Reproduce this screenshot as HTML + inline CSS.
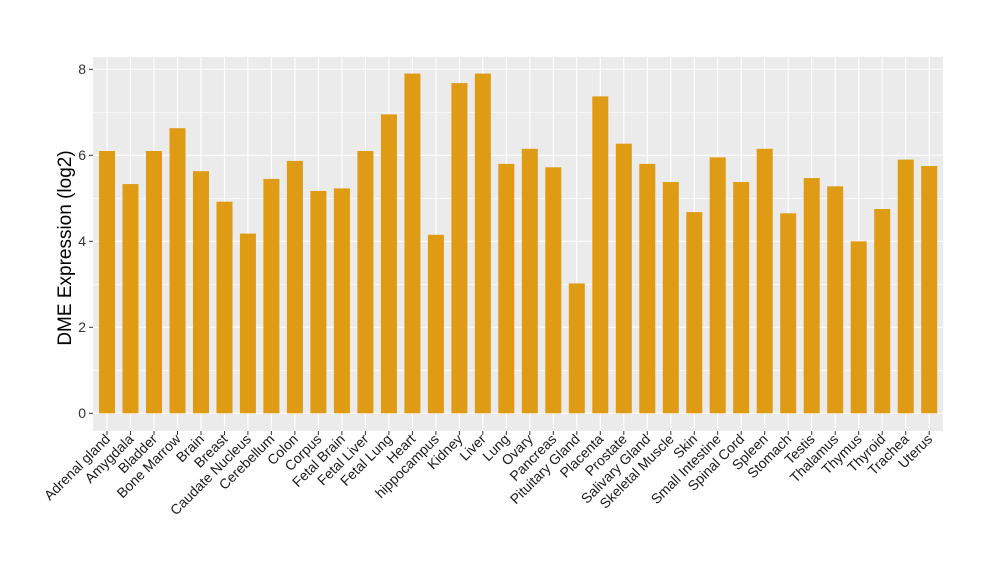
<!DOCTYPE html><html><head><style>body{margin:0;background:#fff}svg{display:block}</style></head><body>
<svg width="1000" height="580" xmlns="http://www.w3.org/2000/svg" font-family="Liberation Sans, sans-serif">
<rect x="93" y="57" width="850" height="374" fill="#ebebeb"/>
<g stroke="#fff" stroke-width="0.6">
<line x1="93" x2="943" y1="370.3" y2="370.3"/><line x1="93" x2="943" y1="284.3" y2="284.3"/><line x1="93" x2="943" y1="198.3" y2="198.3"/><line x1="93" x2="943" y1="112.3" y2="112.3"/>
</g>
<g stroke="#fff" stroke-width="1.2">
<line x1="93" x2="943" y1="413.3" y2="413.3"/><line x1="93" x2="943" y1="327.3" y2="327.3"/><line x1="93" x2="943" y1="241.3" y2="241.3"/><line x1="93" x2="943" y1="155.3" y2="155.3"/><line x1="93" x2="943" y1="69.3" y2="69.3"/>
<line x1="107.0" x2="107.0" y1="57" y2="431"/><line x1="130.5" x2="130.5" y1="57" y2="431"/><line x1="154.0" x2="154.0" y1="57" y2="431"/><line x1="177.5" x2="177.5" y1="57" y2="431"/><line x1="201.0" x2="201.0" y1="57" y2="431"/><line x1="224.5" x2="224.5" y1="57" y2="431"/><line x1="247.9" x2="247.9" y1="57" y2="431"/><line x1="271.4" x2="271.4" y1="57" y2="431"/><line x1="294.9" x2="294.9" y1="57" y2="431"/><line x1="318.4" x2="318.4" y1="57" y2="431"/><line x1="341.9" x2="341.9" y1="57" y2="431"/><line x1="365.4" x2="365.4" y1="57" y2="431"/><line x1="388.9" x2="388.9" y1="57" y2="431"/><line x1="412.4" x2="412.4" y1="57" y2="431"/><line x1="435.9" x2="435.9" y1="57" y2="431"/><line x1="459.4" x2="459.4" y1="57" y2="431"/><line x1="482.8" x2="482.8" y1="57" y2="431"/><line x1="506.3" x2="506.3" y1="57" y2="431"/><line x1="529.8" x2="529.8" y1="57" y2="431"/><line x1="553.3" x2="553.3" y1="57" y2="431"/><line x1="576.8" x2="576.8" y1="57" y2="431"/><line x1="600.3" x2="600.3" y1="57" y2="431"/><line x1="623.8" x2="623.8" y1="57" y2="431"/><line x1="647.3" x2="647.3" y1="57" y2="431"/><line x1="670.8" x2="670.8" y1="57" y2="431"/><line x1="694.3" x2="694.3" y1="57" y2="431"/><line x1="717.7" x2="717.7" y1="57" y2="431"/><line x1="741.2" x2="741.2" y1="57" y2="431"/><line x1="764.7" x2="764.7" y1="57" y2="431"/><line x1="788.2" x2="788.2" y1="57" y2="431"/><line x1="811.7" x2="811.7" y1="57" y2="431"/><line x1="835.2" x2="835.2" y1="57" y2="431"/><line x1="858.7" x2="858.7" y1="57" y2="431"/><line x1="882.2" x2="882.2" y1="57" y2="431"/><line x1="905.7" x2="905.7" y1="57" y2="431"/><line x1="929.2" x2="929.2" y1="57" y2="431"/>
</g>
<g fill="#de9b13">
<rect x="99.0" y="151.0" width="16" height="262.3"/><rect x="122.5" y="184.1" width="16" height="229.2"/><rect x="146.0" y="151.0" width="16" height="262.3"/><rect x="169.5" y="128.2" width="16" height="285.1"/><rect x="193.0" y="171.2" width="16" height="242.1"/><rect x="216.5" y="201.7" width="16" height="211.6"/><rect x="239.9" y="233.6" width="16" height="179.7"/><rect x="263.4" y="178.9" width="16" height="234.4"/><rect x="286.9" y="160.9" width="16" height="252.4"/><rect x="310.4" y="191.0" width="16" height="222.3"/><rect x="333.9" y="188.4" width="16" height="224.9"/><rect x="357.4" y="151.0" width="16" height="262.3"/><rect x="380.9" y="114.4" width="16" height="298.9"/><rect x="404.4" y="73.6" width="16" height="339.7"/><rect x="427.9" y="234.8" width="16" height="178.5"/><rect x="451.4" y="83.1" width="16" height="330.2"/><rect x="474.8" y="73.6" width="16" height="339.7"/><rect x="498.3" y="163.9" width="16" height="249.4"/><rect x="521.8" y="148.8" width="16" height="264.5"/><rect x="545.3" y="167.3" width="16" height="246.0"/><rect x="568.8" y="283.4" width="16" height="129.9"/><rect x="592.3" y="96.4" width="16" height="316.9"/><rect x="615.8" y="143.7" width="16" height="269.6"/><rect x="639.3" y="163.9" width="16" height="249.4"/><rect x="662.8" y="182.0" width="16" height="231.3"/><rect x="686.3" y="212.1" width="16" height="201.2"/><rect x="709.7" y="157.4" width="16" height="255.9"/><rect x="733.2" y="182.0" width="16" height="231.3"/><rect x="756.7" y="148.8" width="16" height="264.5"/><rect x="780.2" y="213.3" width="16" height="200.0"/><rect x="803.7" y="178.1" width="16" height="235.2"/><rect x="827.2" y="186.3" width="16" height="227.0"/><rect x="850.7" y="241.3" width="16" height="172.0"/><rect x="874.2" y="209.0" width="16" height="204.3"/><rect x="897.7" y="159.6" width="16" height="253.7"/><rect x="921.2" y="166.0" width="16" height="247.3"/>
</g>
<g stroke="#333" stroke-width="1">
<line x1="89" x2="93" y1="413.3" y2="413.3"/><line x1="89" x2="93" y1="327.3" y2="327.3"/><line x1="89" x2="93" y1="241.3" y2="241.3"/><line x1="89" x2="93" y1="155.3" y2="155.3"/><line x1="89" x2="93" y1="69.3" y2="69.3"/>
</g>
<g font-size="14" text-anchor="end" fill="#333">
<text x="86" y="418">0</text><text x="86" y="332">2</text><text x="86" y="246">4</text><text x="86" y="160">6</text><text x="86" y="74">8</text>
</g>
<g font-size="14" text-anchor="end" fill="#1a1a1a">
<text transform="translate(111,440) rotate(-45)">Adrenal gland</text>
<text transform="translate(134.5,440) rotate(-45)">Amygdala</text>
<text transform="translate(158,440) rotate(-45)">Bladder</text>
<text transform="translate(181.5,440) rotate(-45)">Bone Marrow</text>
<text transform="translate(205,440) rotate(-45)">Brain</text>
<text transform="translate(228.5,440) rotate(-45)">Breast</text>
<text transform="translate(251.9,440) rotate(-45)">Caudate Nucleus</text>
<text transform="translate(275.4,440) rotate(-45)">Cerebellum</text>
<text transform="translate(298.9,440) rotate(-45)">Colon</text>
<text transform="translate(322.4,440) rotate(-45)">Corpus</text>
<text transform="translate(345.9,440) rotate(-45)">Fetal Brain</text>
<text transform="translate(369.4,440) rotate(-45)">Fetal Liver</text>
<text transform="translate(392.9,440) rotate(-45)">Fetal Lung</text>
<text transform="translate(416.4,440) rotate(-45)">Heart</text>
<text transform="translate(439.9,440) rotate(-45)">hippocampus</text>
<text transform="translate(463.4,440) rotate(-45)">Kidney</text>
<text transform="translate(486.8,440) rotate(-45)">Liver</text>
<text transform="translate(510.3,440) rotate(-45)">Lung</text>
<text transform="translate(533.8,440) rotate(-45)">Ovary</text>
<text transform="translate(557.3,440) rotate(-45)">Pancreas</text>
<text transform="translate(580.8,440) rotate(-45)">Pituitary Gland</text>
<text transform="translate(604.3,440) rotate(-45)">Placenta</text>
<text transform="translate(627.8,440) rotate(-45)">Prostate</text>
<text transform="translate(651.3,440) rotate(-45)">Salivary Gland</text>
<text transform="translate(674.8,440) rotate(-45)">Skeletal Muscle</text>
<text transform="translate(698.3,440) rotate(-45)">Skin</text>
<text transform="translate(721.7,440) rotate(-45)">Small Intestine</text>
<text transform="translate(745.2,440) rotate(-45)">Spinal Cord</text>
<text transform="translate(768.7,440) rotate(-45)">Spleen</text>
<text transform="translate(792.2,440) rotate(-45)">Stomach</text>
<text transform="translate(815.7,440) rotate(-45)">Testis</text>
<text transform="translate(839.2,440) rotate(-45)">Thalamus</text>
<text transform="translate(862.7,440) rotate(-45)">Thymus</text>
<text transform="translate(886.2,440) rotate(-45)">Thyroid</text>
<text transform="translate(909.7,440) rotate(-45)">Trachea</text>
<text transform="translate(933.2,440) rotate(-45)">Uterus</text>
</g>
<g stroke="#333" stroke-width="1">
<line x1="107.0" x2="107.0" y1="431" y2="435"/><line x1="130.5" x2="130.5" y1="431" y2="435"/><line x1="154.0" x2="154.0" y1="431" y2="435"/><line x1="177.5" x2="177.5" y1="431" y2="435"/><line x1="201.0" x2="201.0" y1="431" y2="435"/><line x1="224.5" x2="224.5" y1="431" y2="435"/><line x1="247.9" x2="247.9" y1="431" y2="435"/><line x1="271.4" x2="271.4" y1="431" y2="435"/><line x1="294.9" x2="294.9" y1="431" y2="435"/><line x1="318.4" x2="318.4" y1="431" y2="435"/><line x1="341.9" x2="341.9" y1="431" y2="435"/><line x1="365.4" x2="365.4" y1="431" y2="435"/><line x1="388.9" x2="388.9" y1="431" y2="435"/><line x1="412.4" x2="412.4" y1="431" y2="435"/><line x1="435.9" x2="435.9" y1="431" y2="435"/><line x1="459.4" x2="459.4" y1="431" y2="435"/><line x1="482.8" x2="482.8" y1="431" y2="435"/><line x1="506.3" x2="506.3" y1="431" y2="435"/><line x1="529.8" x2="529.8" y1="431" y2="435"/><line x1="553.3" x2="553.3" y1="431" y2="435"/><line x1="576.8" x2="576.8" y1="431" y2="435"/><line x1="600.3" x2="600.3" y1="431" y2="435"/><line x1="623.8" x2="623.8" y1="431" y2="435"/><line x1="647.3" x2="647.3" y1="431" y2="435"/><line x1="670.8" x2="670.8" y1="431" y2="435"/><line x1="694.3" x2="694.3" y1="431" y2="435"/><line x1="717.7" x2="717.7" y1="431" y2="435"/><line x1="741.2" x2="741.2" y1="431" y2="435"/><line x1="764.7" x2="764.7" y1="431" y2="435"/><line x1="788.2" x2="788.2" y1="431" y2="435"/><line x1="811.7" x2="811.7" y1="431" y2="435"/><line x1="835.2" x2="835.2" y1="431" y2="435"/><line x1="858.7" x2="858.7" y1="431" y2="435"/><line x1="882.2" x2="882.2" y1="431" y2="435"/><line x1="905.7" x2="905.7" y1="431" y2="435"/><line x1="929.2" x2="929.2" y1="431" y2="435"/>
</g>
<text transform="translate(71,248) rotate(-90)" font-size="19" text-anchor="middle" fill="#000">DME Expression (log2)</text>
</svg></body></html>
